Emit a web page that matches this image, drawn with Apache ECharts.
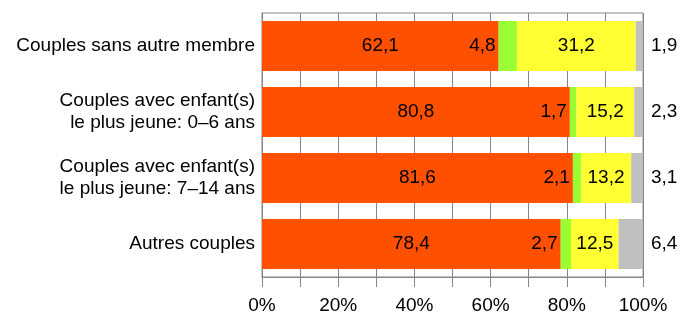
<!DOCTYPE html>
<html lang="fr">
<head>
<meta charset="UTF-8">
<title>Couples</title>
<script src="https://cdn.jsdelivr.net/npm/echarts@6/dist/echarts.min.js"></script>
<style>
  html, body { margin: 0; padding: 0; background: #fff; }
  #chart { width: 682px; height: 318px; }
</style>
</head>
<body>
<div id="chart"></div>
<script>
var categories = [
  'Couples sans autre membre',
  'Couples avec enfant(s)\nle plus jeune: 0\u20136 ans',
  'Couples avec enfant(s)\nle plus jeune: 7\u201314 ans',
  'Autres couples'
];
var orangeValues = [62.1, 80.8, 81.6, 78.4];
var greenValues = [4.8, 1.7, 2.1, 2.7];
var yellowValues = [31.2, 15.2, 13.2, 12.5];
var greyValues = [1.9, 2.3, 3.1, 6.4];

var fontFam = '"Liberation Sans", Arial, sans-serif';
var gridColor = '#858585';

function fr(p) { return String(p.value.toFixed(1)).replace('.', ','); }

function makeSeries(name, data, color, labelPos, dist) {
  return {
    name: name,
    type: 'bar',
    stack: 'total',
    barWidth: 50,
    data: data,
    itemStyle: { color: color },
    label: {
      show: true,
      position: labelPos,
      distance: dist,
      formatter: fr,
      color: '#000',
      fontFamily: fontFam,
      fontSize: 19
    }
  };
}

var chart = echarts.init(document.getElementById('chart'));
chart.setOption({
  animation: false,
  grid: {
    left: 262, right: 39, top: 13, bottom: 41,
    show: true, borderColor: gridColor, borderWidth: 1
  },
  xAxis: {
    type: 'value',
    min: 0, max: 100, interval: 10,
    axisLine: { show: true, lineStyle: { color: gridColor } },
    axisTick: { show: true, length: 10, lineStyle: { color: gridColor } },
    splitLine: { show: true, lineStyle: { color: gridColor } },
    axisLabel: {
      margin: 19,
      color: '#000',
      fontFamily: fontFam,
      fontSize: 19,
      formatter: function (v) { return v % 20 === 0 ? v + '%' : ''; }
    }
  },
  yAxis: {
    type: 'category',
    inverse: true,
    data: categories,
    axisLine: { show: true, lineStyle: { color: gridColor } },
    axisTick: { show: false },
    axisLabel: {
      margin: 7,
      color: '#000',
      fontFamily: fontFam,
      fontSize: 19,
      lineHeight: 22,
      align: 'right'
    }
  },
  series: [
    makeSeries('orange', orangeValues, '#ff5000', 'inside', 0),
    makeSeries('vert', greenValues, '#99ff33', 'left', 3),
    makeSeries('jaune', yellowValues, '#ffff33', 'inside', 0),
    makeSeries('gris', greyValues, '#c0c0c0', 'right', 8)
  ]
});
</script>
</body>
</html>
